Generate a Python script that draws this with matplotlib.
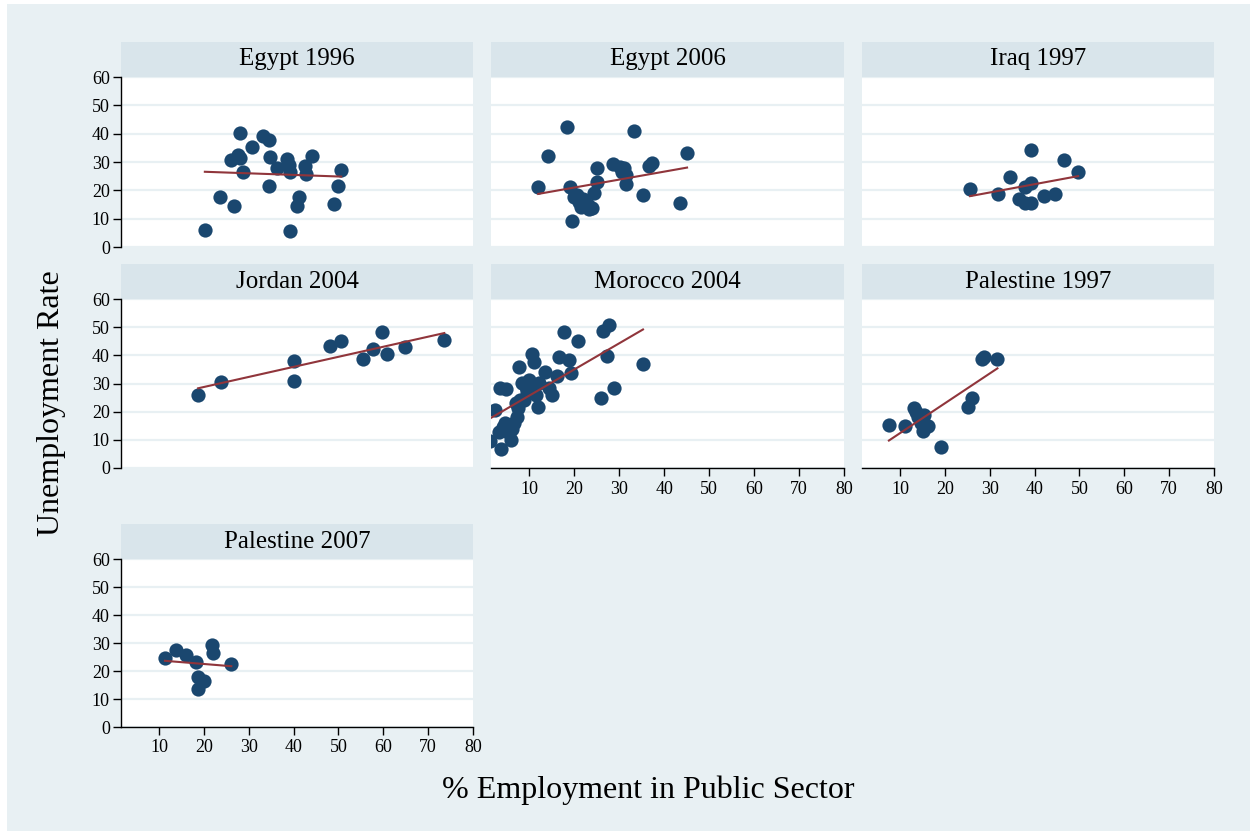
import numpy as np
import matplotlib.pyplot as plt
from matplotlib.patches import Rectangle

plt.rcParams["font.family"] = ["Liberation Serif", "DejaVu Serif"]

# facet titles, in plotting order (row by row)
titles = ["Egypt 1996", "Egypt 2006", "Iraq 1997",
          "Jordan 2004", "Morocco 2004", "Palestine 1997",
          "Palestine 2007"]

# % employment in public sector (x) vs unemployment rate (y), per country-year
egypt96_x = [20.2, 23.5, 26.6, 26.1, 28.1, 27.7, 28.1, 28.8, 30.7, 33.2, 34.5, 34.8, 34.4,
             36.3, 38.5, 39.0, 39.3, 39.3, 41.1, 40.8, 42.5, 42.7, 44.2, 49.1, 49.9, 50.6]
egypt96_y = [6.1, 17.5, 14.5, 30.7, 40.2, 32.5, 31.3, 26.5, 35.4, 39.1, 37.8, 31.9, 21.6,
             27.9, 30.9, 28.9, 26.6, 5.6, 17.7, 14.5, 28.6, 25.7, 32.0, 15.2, 21.7, 27.3]

egypt06_x = [12.0, 14.2, 18.4, 19.1, 19.5, 20.6, 21.0, 21.5, 22.5, 23.4, 24.0, 24.5, 25.0,
             25.0, 28.6, 30.1, 31.0, 31.5, 31.5, 33.4, 35.2, 36.7, 37.2, 43.5, 45.1,
             20.0, 23.0, 21.9, 30.7]
egypt06_y = [21.1, 32.0, 42.2, 21.3, 9.2, 18.3, 15.9, 14.2, 15.4, 13.3, 13.8, 18.9, 22.8,
             27.9, 29.2, 28.3, 27.8, 25.4, 22.2, 41.0, 18.2, 28.7, 29.5, 15.7, 33.3,
             17.7, 14.8, 17.1, 26.6]

iraq97_x = [25.6, 31.9, 34.4, 36.5, 37.9, 39.2, 37.9, 39.2, 39.2, 42.1, 44.6, 46.6, 49.7]
iraq97_y = [20.4, 18.7, 24.6, 16.8, 15.4, 15.6, 21.3, 22.7, 34.3, 18.1, 18.7, 30.7, 26.5]

jordan04_x = [18.7, 23.9, 40.1, 40.1, 48.0, 50.6, 55.4, 57.8, 59.6, 60.8, 64.8, 73.6]
jordan04_y = [25.9, 30.7, 38.0, 30.8, 43.4, 45.1, 38.6, 42.1, 48.2, 40.4, 42.8, 45.4]

morocco04_x = [1.3, 2.4, 3.5, 4.8, 3.7, 3.3, 4.1, 4.7, 5.4, 5.9, 6.1, 6.7, 7.2, 7.6, 7.9,
               7.8, 8.5, 9.3, 10.0, 10.6, 11.0, 10.7, 11.5, 11.9, 12.2, 13.6, 14.3, 15.1,
               16.1, 16.7, 17.8, 18.8, 19.3, 20.9, 26.0, 26.3, 27.8, 27.3, 28.8, 35.3,
               7.0, 8.9, 9.6, 10.4]
morocco04_y = [9.7, 20.6, 28.5, 27.9, 6.7, 12.9, 14.7, 15.9, 12.3, 9.9, 13.7, 15.9, 18.2,
               21.2, 24.1, 35.7, 30.1, 28.9, 31.2, 40.5, 37.8, 27.7, 25.9, 21.8, 30.1,
               34.2, 28.3, 25.9, 32.7, 39.3, 48.4, 38.3, 33.8, 45.2, 25.0, 48.6, 50.8,
               39.9, 28.5, 36.8, 23.0, 24.1, 27.1, 29.5]

palestine97_x = [7.5, 11.2, 13.1, 14.0, 14.7, 15.1, 15.4, 16.2, 19.2, 25.1, 26.0, 28.2,
                 28.8, 31.7, 13.6]
palestine97_y = [15.3, 14.9, 21.2, 18.2, 15.9, 13.3, 18.8, 15.0, 7.3, 21.8, 25.0, 38.6,
                 39.5, 38.6, 20.0]

palestine07_x = [11.3, 13.8, 16.1, 18.3, 18.6, 18.6, 20.1, 21.7, 22.0, 26.1]
palestine07_y = [24.5, 27.4, 25.6, 23.2, 17.9, 13.5, 16.4, 29.4, 26.5, 22.4]

series = [(egypt96_x, egypt96_y), (egypt06_x, egypt06_y), (iraq97_x, iraq97_y),
          (jordan04_x, jordan04_y), (morocco04_x, morocco04_y),
          (palestine97_x, palestine97_y), (palestine07_x, palestine07_y)]

x_ticks = [10, 20, 30, 40, 50, 60, 70, 80]
y_ticks = [0, 10, 20, 30, 40, 50, 60]

BG = "#e8f0f3"
STRIP = "#d9e5eb"
NAVY = "#1a476f"
MAROON = "#90353b"

W, H = 1250, 831
# pixel bounds of the plot regions
col_px = [(121, 473), (491, 844), (862, 1214)]
row_px = [(77, 247), (299, 468), (559, 727)]
strip_h = 35


def px_box(left, top, right, bottom):
    """Convert pixel bounds to a figure-fraction rectangle."""
    return [left / W, 1 - bottom / H, (right - left) / W, (bottom - top) / H]


fig = plt.figure(figsize=(W / 100, H / 100), dpi=100)
fig.patch.set_facecolor("white")
fig.patches.append(Rectangle((7 / W, 0), 1 - 7 / W, 1 - 4 / H, transform=fig.transFigure,
                             facecolor=BG, edgecolor="none", zorder=-10))

for i, (title, (xs, ys)) in enumerate(zip(titles, series)):
    row, col = divmod(i, 3)
    l, r = col_px[col]
    t, b = row_px[row]

    strip = fig.add_axes(px_box(l, t - strip_h, r, t))
    strip.set_facecolor(STRIP)
    strip.set_xticks([])
    strip.set_yticks([])
    for s in strip.spines.values():
        s.set_visible(False)
    strip.text(0.5, 0.5, title, ha="center", va="center", fontsize=18,
               transform=strip.transAxes)

    ax = fig.add_axes(px_box(l, t, r, b))
    ax.set_facecolor("white")
    ax.set_xlim(1.5, 80)
    ax.set_ylim(0, 60)
    ax.set_yticks(y_ticks)
    ax.set_xticks(x_ticks)
    ax.yaxis.grid(True, color=BG, linewidth=1.6)
    ax.set_axisbelow(True)
    for s in ax.spines.values():
        s.set_visible(False)

    # y axis only on the first column
    if col == 0:
        ax.spines["left"].set_visible(True)
        ax.spines["left"].set_linewidth(1.0)
        ax.tick_params(axis="y", direction="out", length=6, width=1.0, labelsize=13, pad=2)
    else:
        ax.tick_params(axis="y", length=0, labelleft=False)

    # x axis only on the bottom panel of each column
    bottom_panel = (row == 2) or (row == 1 and col > 0)
    if bottom_panel:
        ax.spines["bottom"].set_visible(True)
        ax.spines["bottom"].set_linewidth(1.0)
        ax.tick_params(axis="x", direction="out", length=6, width=1.0, labelsize=13, pad=3)
    else:
        ax.tick_params(axis="x", length=0, labelbottom=False)

    ax.scatter(xs, ys, s=105, color=NAVY, linewidths=0, zorder=3)

    # linear fit over the data range
    slope, icpt = np.polyfit(xs, ys, 1)
    fx = np.array([min(xs), max(xs)])
    ax.plot(fx, slope * fx + icpt, color=MAROON, linewidth=1.5, zorder=4)

fig.text(52 / W, 1 - 403 / H, "Unemployment Rate", rotation=90, ha="center",
         va="center", fontsize=23)
fig.text(648 / W, 1 - 790 / H, "% Employment in Public Sector", ha="center",
         va="center", fontsize=23)

fig.savefig("out.png", dpi=100, facecolor=fig.get_facecolor())
